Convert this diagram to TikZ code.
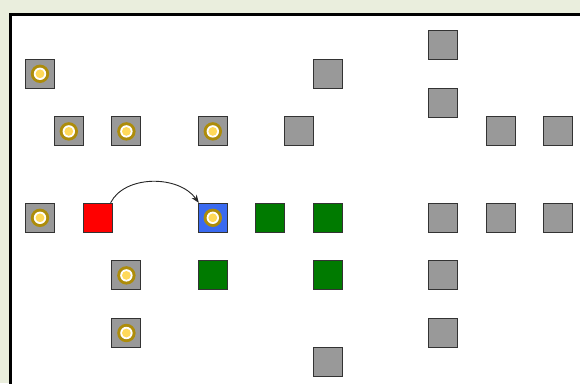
\documentclass[tikz,border=0pt]{standalone}
\usetikzlibrary{arrows.meta}
\definecolor{bgc}{HTML}{EAEEDD}
\definecolor{tilegray}{HTML}{999999}
\definecolor{tileborder}{HTML}{333333}
\definecolor{coingold}{HTML}{AD8C0A}
\definecolor{coinyellow}{HTML}{FFD95A}
\definecolor{tilered}{HTML}{FF0000}
\definecolor{tileblue}{HTML}{3A6AF0}
\definecolor{tilegreen}{HTML}{007A00}
\begin{document}
\begin{tikzpicture}[x=1pt,y=-1pt,
  tile/.style={draw=tileborder, line width=1pt, minimum size=29pt, inner sep=0pt, fill=tilegray},
  coin/.style={path picture={
    \fill[coingold] (path picture bounding box.center) circle (9.2pt);
    \fill[white] (path picture bounding box.center) circle (6.2pt);
    \fill[coinyellow] (path picture bounding box.center) circle (4.4pt);}},
  cointile/.style={tile, coin},
  redtile/.style={tile, fill=tilered},
  bluetile/.style={tile, fill=tileblue, coin},
  greentile/.style={tile, fill=tilegreen},
  arr/.style={-{Stealth[length=8pt,width=6pt]}, line width=0.9pt, draw=black!85}]
\fill[bgc] (0,0) rectangle (580,383);
\useasboundingbox (0,0) rectangle (580,383);
\fill[white] (10.5,14.5) rectangle (580,383);
\draw[line width=3pt] (10.5,384) -- (10.5,14.5) -- (581,14.5);
% row 0
\node[tile] (g0) at (443.2,45) {};
% row 1
\node[cointile] (c1) at (40,73.8) {};
\node[tile] (g1) at (328,73.8) {};
% row 2
\node[tile] (g2) at (443.2,102.6) {};
% row 3
\node[cointile] (c2) at (68.8,131.4) {};
\node[cointile] (c3) at (126.4,131.4) {};
\node[cointile] (c4) at (212.8,131.4) {};
\node[tile] (g3) at (299.2,131.4) {};
\node[tile] (g4) at (500.8,131.4) {};
\node[tile] (g5) at (558.4,131.4) {};
% row 6
\node[cointile] (c5) at (40,217.8) {};
\node[redtile] (red) at (97.6,217.8) {};
\node[bluetile] (blue) at (212.8,217.8) {};
\node[greentile] (gr1) at (270.4,217.8) {};
\node[greentile] (gr2) at (328,217.8) {};
\node[tile] (g6) at (443.2,217.8) {};
\node[tile] (g7) at (500.8,217.8) {};
\node[tile] (g8) at (558.4,217.8) {};
% row 8
\node[cointile] (c6) at (126.4,275.4) {};
\node[greentile] (gr3) at (212.8,275.4) {};
\node[greentile] (gr4) at (328,275.4) {};
\node[tile] (g9) at (443.2,275.4) {};
% row 10
\node[cointile] (c7) at (126.4,333) {};
\node[tile] (g10) at (443.2,333) {};
% row 11
\node[tile] (g11) at (328,361.8) {};
% arrow
\draw[arr] ([xshift=-2pt]red.north east) .. controls +(14,-28) and +(-20,-28) .. ([xshift=1pt]blue.north west);
\end{tikzpicture}
\end{document}
